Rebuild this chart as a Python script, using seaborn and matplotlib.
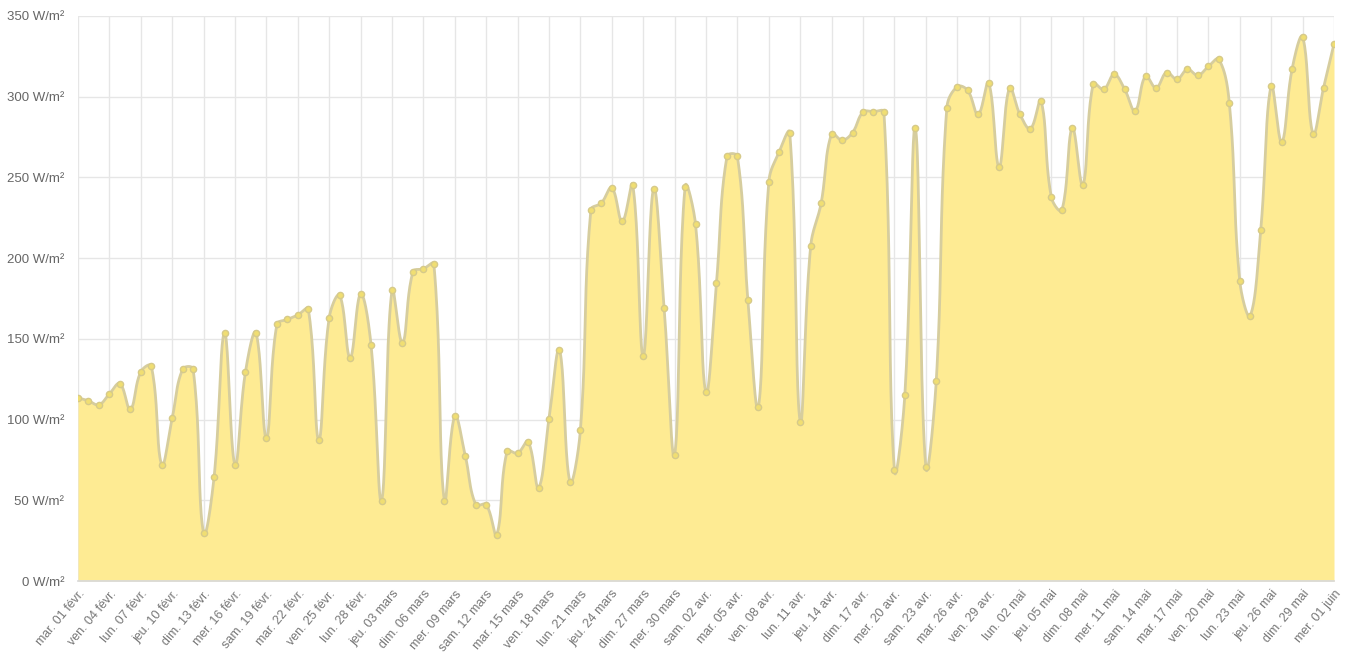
import numpy as np
import seaborn as sns
import matplotlib
matplotlib.use("Agg")
import matplotlib.pyplot as plt

# Irradiance journalière moyenne (W/m²), du 1er février au 1er juin
irradiance = [
    113.5, 111.6, 109.2, 115.9, 122.3, 106.4, 129.6, 133.1, 72.1, 101.0,
    131.2, 131.2, 29.6, 64.3, 153.7, 72.1, 129.6, 153.7, 88.7, 158.9,
    162.0, 164.8, 168.4, 87.5, 163.2, 176.9, 138.3, 177.8, 146.1, 49.7,
    180.2, 147.3, 191.5, 193.4, 196.3, 49.7, 102.2, 77.6, 47.3, 47.3,
    28.8, 80.4, 79.2, 86.3, 57.9, 100.5, 143.1, 61.5, 93.4, 229.8,
    234.1, 243.6, 222.7, 245.4, 139.5, 243.1, 169.1, 78.0, 244.3, 221.1,
    117.0, 184.9, 263.0, 263.0, 174.3, 107.6, 247.1, 266.0, 277.8, 98.8,
    207.4, 234.1, 277.1, 273.1, 277.8, 290.4, 290.8, 290.4, 68.6, 115.4,
    280.7, 70.5, 124.1, 292.7, 306.2, 303.9, 289.0, 308.6, 256.6, 305.5,
    289.0, 280.2, 297.5, 237.6, 229.8, 280.7, 245.2, 308.1, 304.6, 313.8,
    304.6, 291.3, 312.8, 305.5, 315.0, 310.9, 316.9, 313.3, 318.8, 323.2,
    296.0, 185.6, 164.3, 217.5, 306.9, 271.9, 317.3, 337.0, 277.1, 305.5,
    332.7,
]

# une étiquette tous les 3 jours
tick_labels = [
    "mar. 01 févr.", "ven. 04 févr.", "lun. 07 févr.", "jeu. 10 févr.",
    "dim. 13 févr.", "mer. 16 févr.", "sam. 19 févr.", "mar. 22 févr.",
    "ven. 25 févr.", "lun. 28 févr.", "jeu. 03 mars", "dim. 06 mars",
    "mer. 09 mars", "sam. 12 mars", "mar. 15 mars", "ven. 18 mars",
    "lun. 21 mars", "jeu. 24 mars", "dim. 27 mars", "mer. 30 mars",
    "sam. 02 avr.", "mar. 05 avr.", "ven. 08 avr.", "lun. 11 avr.",
    "jeu. 14 avr.", "dim. 17 avr.", "mer. 20 avr.", "sam. 23 avr.",
    "mar. 26 avr.", "ven. 29 avr.", "lun. 02 mai", "jeu. 05 mai",
    "dim. 08 mai", "mer. 11 mai", "sam. 14 mai", "mar. 17 mai",
    "ven. 20 mai", "lun. 23 mai", "jeu. 26 mai", "dim. 29 mai",
    "mer. 01 juin",
]
y_ticks = [0, 50, 100, 150, 200, 250, 300, 350]

days = np.arange(len(irradiance))
vals = np.array(irradiance)

sns.set_theme(style="white")
plt.rcParams['font.family'] = ['Liberation Sans', 'DejaVu Sans']

fig = plt.figure(figsize=(13.51, 6.57), dpi=100)
ax = fig.add_axes([78 / 1351, 1 - 581 / 657, (1334 - 78) / 1351, (581 - 16) / 657])
ax.set_xlim(0, len(vals) - 1)
ax.set_ylim(0, 350)


# courbe lissée façon Chart.js (tension 0.4), calculée en pixels
def smooth_curve(x, y, sx, sy, tension=0.4, n=24):
    px, py = x * sx, y * sy
    m = len(px)
    c1x, c1y = np.copy(px), np.copy(py)
    c2x, c2y = np.copy(px), np.copy(py)
    for i in range(1, m - 1):
        d01 = np.hypot(px[i] - px[i - 1], py[i] - py[i - 1])
        d12 = np.hypot(px[i + 1] - px[i], py[i + 1] - py[i])
        s01 = d01 / (d01 + d12)
        s12 = d12 / (d01 + d12)
        dx, dy = px[i + 1] - px[i - 1], py[i + 1] - py[i - 1]
        c1x[i], c1y[i] = px[i] - tension * s01 * dx, py[i] - tension * s01 * dy
        c2x[i], c2y[i] = px[i] + tension * s12 * dx, py[i] + tension * s12 * dy
    t = np.linspace(0, 1, n)[:, None]
    xs, ys = [], []
    for i in range(m - 1):
        bx = ((1 - t) ** 3 * px[i] + 3 * (1 - t) ** 2 * t * c2x[i]
              + 3 * (1 - t) * t ** 2 * c1x[i + 1] + t ** 3 * px[i + 1])
        by = ((1 - t) ** 3 * py[i] + 3 * (1 - t) ** 2 * t * c2y[i]
              + 3 * (1 - t) * t ** 2 * c1y[i + 1] + t ** 3 * py[i + 1])
        xs.append(bx.ravel())
        ys.append(by.ravel())
    return np.concatenate(xs) / sx, np.clip(np.concatenate(ys) / sy, 0, 350)


sx = (1334 - 78) / (len(vals) - 1)
sy = (581 - 16) / 350
cx, cy = smooth_curve(days, vals, sx, sy)

ax.fill_between(cx, 0, cy, color="#feeb93", linewidth=0, zorder=2)
sns.lineplot(x=cx, y=cy, sort=False, color="#d6cd9e", linewidth=2, ax=ax, zorder=3)
sns.scatterplot(x=days, y=vals, s=20, color="#f0de72", edgecolor="#d6ca8a",
                linewidth=1, ax=ax, zorder=4)

# grille
ax.set_xticks(days[::3])
ax.set_xticklabels(tick_labels, rotation=50, ha="right", rotation_mode="anchor")
ax.set_yticks(y_ticks)
ax.set_yticklabels([f"{v} W/m²" for v in y_ticks])
ax.grid(True, color="#e6e6e6", linewidth=1, zorder=0)
ax.set_axisbelow(True)
for s in ["top", "right", "left"]:
    ax.spines[s].set_visible(False)
ax.spines["bottom"].set_color("#d9d9d9")
ax.tick_params(axis="x", colors="#777777", labelsize=9, length=0, pad=5)
ax.tick_params(axis="y", color="#e6e6e6", labelcolor="#666666", labelsize=9.5,
               length=9, width=1, pad=1)
ax.set_xlabel("")
ax.set_ylabel("")

fig.savefig("out.png", dpi=100)
